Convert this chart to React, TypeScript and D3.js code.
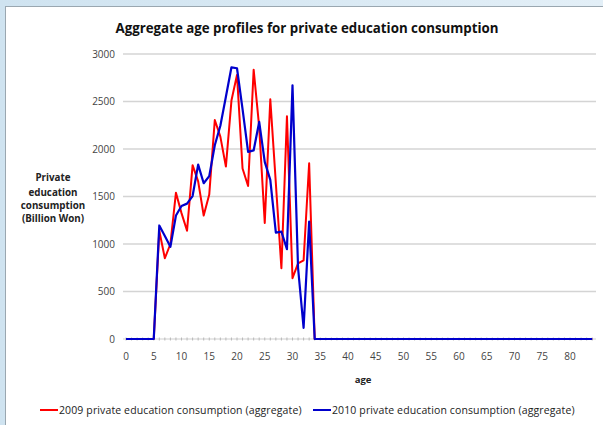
import React from "react";
import * as d3 from "d3";

const ages: number[] = d3.range(0, 85);
const xTicks: number[] = [0, 5, 10, 15, 20, 25, 30, 35, 40, 45, 50, 55, 60, 65, 70, 75, 80];
const yTicks: number[] = [0, 500, 1000, 1500, 2000, 2500, 3000];

// 2009 private education consumption (aggregate), ages 0..84
const series2009: number[] = [
  0, 0, 0, 0, 0, 0, 1140, 850, 1000, 1540,
  1325, 1140, 1830, 1660, 1300, 1520, 2305, 2130, 1815, 2510,
  2780, 1795, 1610, 2835, 2230, 1222, 2523, 1640, 745, 2345,
  640, 795, 828, 1850, 0, 0, 0, 0, 0, 0,
  0, 0, 0, 0, 0, 0, 0, 0, 0, 0,
  0, 0, 0, 0, 0, 0, 0, 0, 0, 0,
  0, 0, 0, 0, 0, 0, 0, 0, 0, 0,
  0, 0, 0, 0, 0, 0, 0, 0, 0, 0,
  0, 0, 0, 0, 0,
];

// 2010 private education consumption (aggregate), ages 0..84
const series2010: number[] = [
  0, 0, 0, 0, 0, 0, 1195, 1085, 970, 1300,
  1400, 1425, 1505, 1835, 1640, 1715, 2040, 2245, 2550, 2860,
  2850, 2420, 1970, 1985, 2285, 1865, 1675, 1120, 1130, 945,
  2670, 750, 118, 1235, 0, 0, 0, 0, 0, 0,
  0, 0, 0, 0, 0, 0, 0, 0, 0, 0,
  0, 0, 0, 0, 0, 0, 0, 0, 0, 0,
  0, 0, 0, 0, 0, 0, 0, 0, 0, 0,
  0, 0, 0, 0, 0, 0, 0, 0, 0, 0,
  0, 0, 0, 0, 0,
];

const legendLabels: string[] = [
  "2009 private education consumption (aggregate)",
  "2010 private education consumption (aggregate)",
];
const colors: string[] = ["#ff0000", "#0000cc"];

const W = 603;
const H = 425;
const FONT = "'Open Sans', 'DejaVu Sans', sans-serif";

export default function App() {
  const x = d3.scaleLinear().domain([0, 80]).range([126, 570]);
  const y = d3.scaleLinear().domain([0, 3000]).range([339, 54]);
  const line = d3
    .line<number>()
    .x((_, i) => x(ages[i]))
    .y((d) => y(d));

  const gridX0 = 123;
  const gridX1 = 596;

  return (
    <div style={{ position: "absolute", left: 0, top: 0 }}>
      <svg width={W} height={H} style={{ display: "block" }}>
        <defs>
          <linearGradient id="bg" x1="0" y1="0" x2="1" y2="0">
            <stop offset="0" stopColor="#cfe3f0" />
            <stop offset="1" stopColor="#e3eff7" />
          </linearGradient>
        </defs>
        <rect x={0} y={0} width={W} height={H} fill="url(#bg)" />
        <rect x={5.5} y={6.5} width={W + 10} height={H + 10} fill="#ffffff" stroke="#9aa7b0" strokeWidth={1} />

        {/* title */}
        <text x={307} y={33} textAnchor="middle" fontFamily={FONT} fontWeight="bold" fontSize={13.3} fill="#111">
          Aggregate age profiles for private education consumption
        </text>

        {/* gridlines */}
        {yTicks.filter((t) => t > 0).map((t) => (
          <line key={t} x1={gridX0} x2={gridX1} y1={y(t)} y2={y(t)} stroke="#d4d4d4" strokeWidth={1.5} />
        ))}
        {/* zero axis with minor ticks */}
        <line x1={gridX0} x2={gridX1} y1={y(0)} y2={y(0)} stroke="#cfcfcf" strokeWidth={1} />
        {ages.map((a) => (
          <line key={a} x1={x(a)} x2={x(a)} y1={y(0) - 1.5} y2={y(0) + 1.5} stroke="#b8b8b8" strokeWidth={1} />
        ))}

        {/* y tick labels */}
        {yTicks.map((t) => (
          <text key={t} x={115} y={y(t) + 3.5} textAnchor="end" fontFamily={FONT} fontSize={10} fill="#444">
            {t}
          </text>
        ))}
        {/* x tick labels */}
        {xTicks.map((t) => (
          <text key={t} x={x(t)} y={360} textAnchor="middle" fontFamily={FONT} fontSize={10} fill="#444">
            {t}
          </text>
        ))}

        {/* axis titles */}
        <text x={53} y={181} textAnchor="middle" fontFamily={FONT} fontWeight="bold" fontSize={9.8} fill="#222">
          <tspan x={53} dy={0}>Private</tspan>
          <tspan x={53} dy={14.5}>education</tspan>
          <tspan x={53} dy={13.5}>consumption</tspan>
          <tspan x={53} dy={13}>(Billion Won)</tspan>
        </text>
        <text x={363} y={383} textAnchor="middle" fontFamily={FONT} fontWeight="bold" fontSize={9.5} fill="#222">
          age
        </text>

        {/* series */}
        <path d={line(series2009) || ""} fill="none" stroke={colors[0]} strokeWidth={2} strokeLinejoin="round" />
        <path d={line(series2010) || ""} fill="none" stroke={colors[1]} strokeWidth={2.2} strokeLinejoin="round" />

        {/* legend */}
        {legendLabels.map((lab, i) => {
          const lx = i === 0 ? 40 : 313;
          return (
            <g key={lab}>
              <line x1={lx} x2={lx + 18} y1={410} y2={410} stroke={colors[i]} strokeWidth={2} />
              <text x={lx + 19} y={413.5} fontFamily={FONT} fontSize={10.5} letterSpacing={0.12} fill="#222">
                {lab}
              </text>
            </g>
          );
        })}
      </svg>
    </div>
  );
}
